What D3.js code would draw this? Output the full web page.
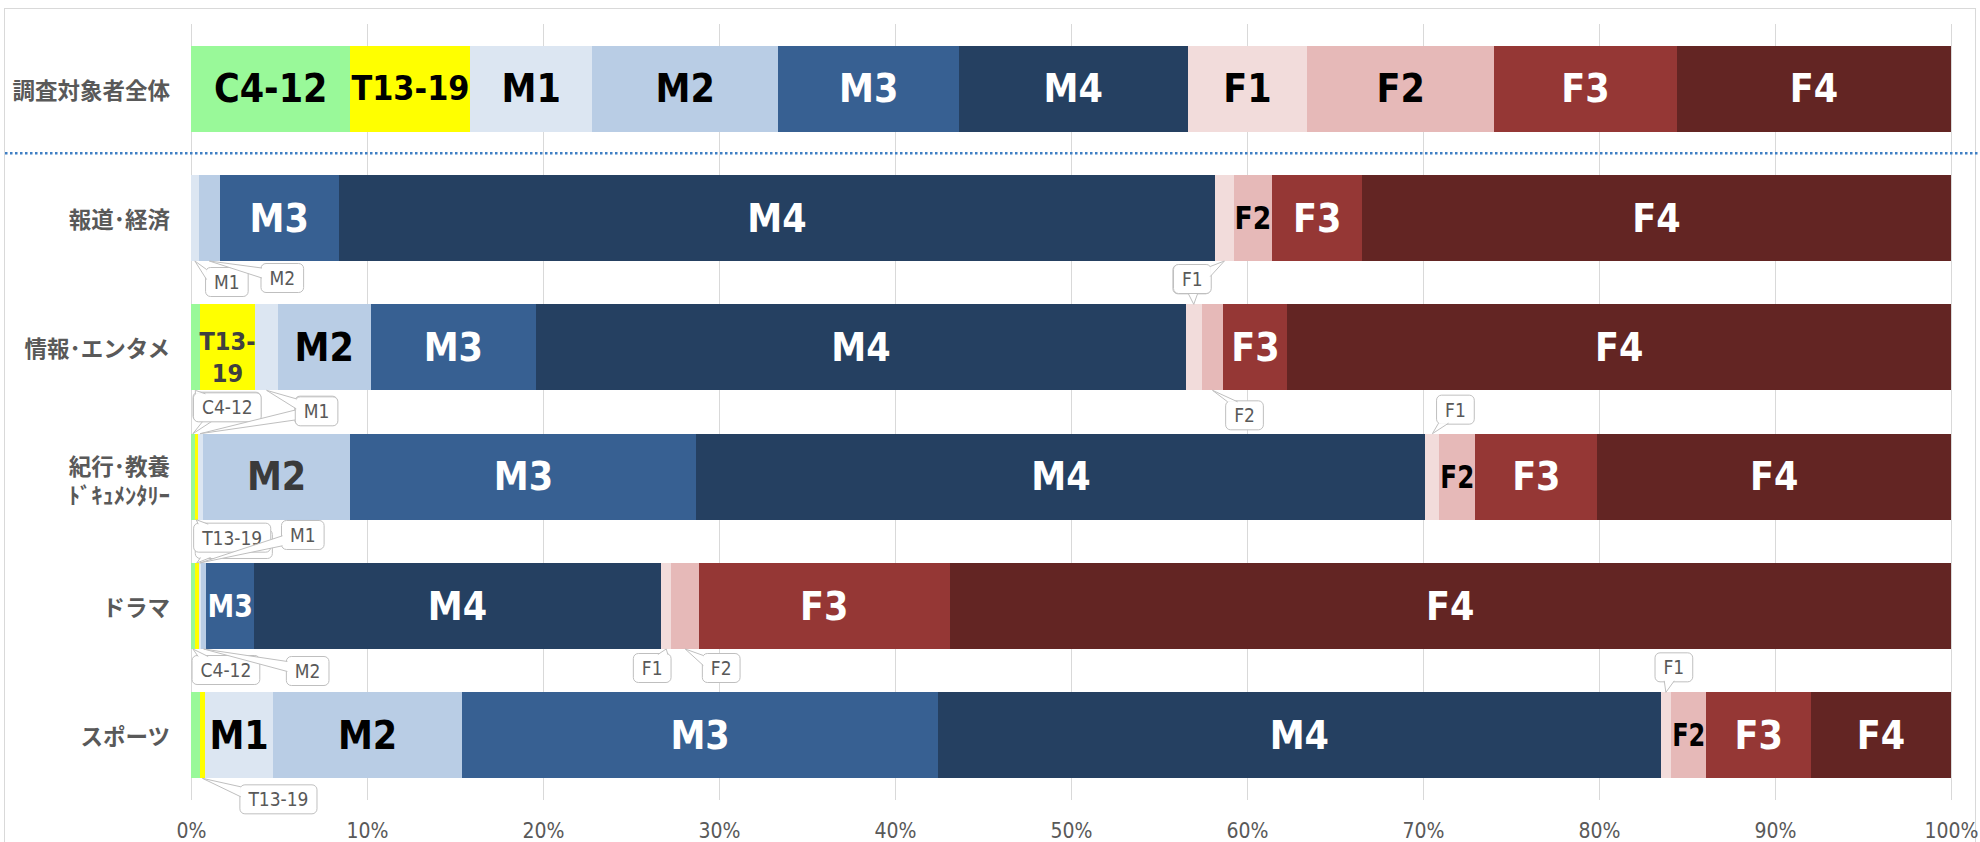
<!DOCTYPE html>
<html>
<head>
<meta charset="utf-8">
<script src="https://cdn.jsdelivr.net/npm/d3@7"></script>
<style>
  body { margin: 0; background: #fff; }
  svg { display: block; }
</style>
</head>
<body>
<div id="chart"></div>
<script>
// categories (rows) and series (stack order)
const categories = ["調査対象者全体", "報道･経済", "情報･エンタメ", "紀行･教養\nﾄﾞｷｭﾒﾝﾀﾘｰ", "ドラマ", "スポーツ"];
const seriesNames = ["C4-12", "T13-19", "M1", "M2", "M3", "M4", "F1", "F2", "F3", "F4"];

// share (%) of each series, one value per category
const c4_12  = [9.06, 0,     0.49,  0.22,  0.22,  0.51];
const t13_19 = [6.82, 0,     3.17,  0.15,  0.22,  0.28];
const m1     = [6.9,  0.44,  1.27,  0.3,   0.12,  3.88];
const m2     = [10.6, 1.2,   5.27,  8.39,  0.32,  10.73];
const m3     = [10.25, 6.75, 9.41,  19.66, 2.69,  27.05];
const m4     = [13.0, 49.8,  36.92, 41.42, 23.13, 41.05];
const f1     = [6.8,  1.05,  0.89,  0.79,  0.6,   0.6];
const f2     = [10.6, 2.2,   1.24,  2.04,  1.56,  2.0];
const f3     = [10.4, 5.1,   3.64,  6.94,  14.24, 5.95];
const f4     = [15.57, 33.46, 37.7, 20.1,  56.9,  7.95];
const seriesValues = [c4_12, t13_19, m1, m2, m3, m4, f1, f2, f3, f4];

const tickValues = [0, 10, 20, 30, 40, 50, 60, 70, 80, 90, 100];

const seriesColors = ["#99f999", "#ffff00", "#dce6f2", "#b9cde5", "#376092",
                      "#254061", "#f2dcdb", "#e6b9b8", "#953735", "#632523"];
const seriesTextColors = ["#000", "#000", "#000", "#000", "#fff", "#fff", "#000", "#000", "#fff", "#fff"];
const labelColorOverrides = [
  { cat: "情報･エンタメ", series: "T13-19", color: "#404040" },
  { cat: "紀行･教養\nﾄﾞｷｭﾒﾝﾀﾘｰ", series: "M2", color: "#3a3a3a" }
];

// small segments get a callout box instead (offset of box centre from the bar edge).
// "under" ones sit hidden behind another box, only their wedge shows
const callouts = [
  { cat: "報道･経済", series: "M1", side: "bottom", dx: 32, dy: 21 },
  { cat: "報道･経済", series: "M2", side: "bottom", dx: 73, dy: 17 },
  { cat: "情報･エンタメ", series: "F1", side: "top", dx: -2, dy: -25, under: true },
  { cat: "報道･経済", series: "F1", side: "bottom", dx: -32, dy: 18 },
  { cat: "紀行･教養\nﾄﾞｷｭﾒﾝﾀﾘｰ", series: "C4-12", side: "top", dx: 34, dy: -27, under: true },
  { cat: "情報･エンタメ", series: "C4-12", side: "bottom", dx: 32, dy: 17 },
  { cat: "紀行･教養\nﾄﾞｷｭﾒﾝﾀﾘｰ", series: "M1", side: "top", dx: 116, dy: -23, under: true },
  { cat: "情報･エンタメ", series: "M1", side: "bottom", dx: 50, dy: 21 },
  { cat: "情報･エンタメ", series: "F2", side: "bottom", dx: 32, dy: 25 },
  { cat: "紀行･教養\nﾄﾞｷｭﾒﾝﾀﾘｰ", series: "F1", side: "top", dx: 23, dy: -24 },
  { cat: "ドラマ", series: "T13-19", side: "top", dx: 37, dy: -19, under: true },
  { cat: "紀行･教養\nﾄﾞｷｭﾒﾝﾀﾘｰ", series: "T13-19", side: "bottom", dx: 36, dy: 18 },
  { cat: "ドラマ", series: "M1", side: "top", dx: 103, dy: -28 },
  { cat: "ドラマ", series: "C4-12", side: "bottom", dx: 33, dy: 21 },
  { cat: "ドラマ", series: "M2", side: "bottom", dx: 104, dy: 22 },
  { cat: "ドラマ", series: "F1", side: "bottom", dx: -14, dy: 19 },
  { cat: "ドラマ", series: "F2", side: "bottom", dx: 36, dy: 19 },
  { cat: "スポーツ", series: "F1", side: "top", dx: 8, dy: -25 },
  { cat: "スポーツ", series: "T13-19", side: "bottom", dx: 76, dy: 21 }
];

const width = 1980, height = 842;
const labelFont = "'DejaVu Sans Condensed', 'DejaVu Sans', sans-serif";
const innerSize = 39;

const svg = d3.select("#chart").append("svg")
  .attr("width", width)
  .attr("height", height);

// chart frame
svg.append("rect")
  .attr("x", 4.5).attr("y", 8.5)
  .attr("width", 1971).attr("height", 850)
  .attr("fill", "none").attr("stroke", "#d9d9d9");

const x = d3.scaleLinear().domain([0, 100]).range([191, 1951]);
const y = d3.scaleBand().domain(categories).range([24, 800])
  .paddingInner(0.335).paddingOuter(0.1675);

// vertical gridlines
svg.append("g").selectAll("line")
  .data(tickValues)
  .join("line")
  .attr("x1", d => x(d)).attr("x2", d => x(d))
  .attr("y1", 24).attr("y2", 800)
  .attr("stroke", "#d9d9d9").attr("stroke-width", 1)
  .attr("shape-rendering", "crispEdges");

// x axis
const axis = svg.append("g")
  .attr("transform", "translate(0,800)")
  .call(d3.axisBottom(x).tickValues(tickValues).tickFormat(d => d + "%").tickSize(0).tickPadding(23));
axis.select(".domain").remove();
axis.selectAll("text")
  .attr("fill", "#595959")
  .style("font-family", labelFont)
  .style("font-stretch", "condensed")
  .style("font-size", "21px");

// dotted separator under the overall row
const sepY = (y(categories[0]) + y.bandwidth() + y(categories[1])) / 2;
svg.append("line")
  .attr("x1", 5).attr("x2", 1980)
  .attr("y1", sepY).attr("y2", sepY)
  .attr("stroke", "#3f7fc4").attr("stroke-width", 2.5)
  .attr("stroke-dasharray", "2.5,2.5");

// stacked bars
const table = categories.map((c, i) => {
  const row = { cat: c };
  seriesNames.forEach((s, j) => { row[s] = seriesValues[j][i]; });
  return row;
});
const stacked = d3.stack().keys(seriesNames)(table);

svg.append("g").selectAll("g")
  .data(stacked)
  .join("g")
  .attr("fill", (d, i) => seriesColors[i])
  .selectAll("rect")
  .data(d => d)
  .join("rect")
  .attr("x", d => x(d[0]))
  .attr("width", d => x(d[1]) - x(d[0]))
  .attr("y", d => y(d.data.cat))
  .attr("height", y.bandwidth())
  .attr("shape-rendering", "crispEdges");

// category labels
const catLabels = svg.append("g")
  .selectAll("text")
  .data(categories)
  .join("text")
  .attr("text-anchor", "end")
  .attr("fill", "#595959")
  .style("font-family", "'Noto Sans CJK JP', sans-serif")
  .style("font-weight", 700)
  .style("font-size", "22.5px");
catLabels.each(function(c) {
  const lines = c.split("\n");
  const cy = y(c) + y.bandwidth() / 2;
  const offs = lines.length === 1 ? [0] : [-12, 17];
  d3.select(this).selectAll("tspan")
    .data(lines)
    .join("tspan")
    .attr("x", 170)
    .attr("y", (l, i) => cy + offs[i])
    .attr("dominant-baseline", "central")
    .text(l => l);
});

// labels inside the segments
const inner = svg.append("g");
stacked.forEach((layer, si) => {
  layer.forEach(d => {
    const v = d[1] - d[0];
    if (v < 1.9) return;
    const cat = d.data.cat;
    const segW = x(d[1]) - x(d[0]);
    const cx = x((d[0] + d[1]) / 2);
    const cy = y(cat) + y.bandwidth() / 2;
    const ov = labelColorOverrides.find(o => o.cat === cat && o.series === seriesNames[si]);
    const color = ov ? ov.color : seriesTextColors[si];
    const t = inner.append("text")
      .attr("x", cx).attr("y", cy)
      .attr("text-anchor", "middle")
      .attr("dominant-baseline", "central")
      .attr("fill", color)
      .style("font-family", labelFont)
      .style("font-stretch", "condensed")
      .style("font-weight", 700)
      .style("font-size", innerSize + "px")
      .text(seriesNames[si]);
    const len = t.node().getComputedTextLength();
    if (len > segW - 2) {
      const name = seriesNames[si];
      if (name.includes("-") && segW < 70) {
        // wrap over two lines like "T13-" / "19"
        const parts = [name.slice(0, name.indexOf("-") + 1), name.slice(name.indexOf("-") + 1)];
        t.text(null).attr("dominant-baseline", null).style("font-size", "25px");
        t.selectAll("tspan").data(parts).join("tspan")
          .attr("x", cx)
          .attr("y", (p, i) => cy + 3 + i * 32)
          .text(p => p);
      } else {
        // shrink a little, then squeeze the rest sideways (keeps the tall look)
        const fit = (segW - 2) / len;
        const size = innerSize * Math.max(0.82, fit);
        t.style("font-size", size + "px");
        const len2 = t.node().getComputedTextLength();
        if (len2 > segW - 2) {
          const k = (segW - 2) / len2;
          t.attr("transform", `translate(${cx},0) scale(${k},1) translate(${-cx},0)`);
        }
      }
    }
  });
});

// callout boxes for tiny segments
const cg = svg.append("g");
callouts.forEach(c => {
  const si = seriesNames.indexOf(c.series);
  const d = stacked[si][categories.indexOf(c.cat)];
  const ax = x((d[0] + d[1]) / 2);
  const ay = c.side === "top" ? y(c.cat) : y(c.cat) + y.bandwidth();
  const bx = ax + c.dx, by = ay + c.dy;
  const g = cg.append("g");
  const rect = g.append("rect");
  const tail = g.append("path");
  // measure the label, then drop it again if this box is hidden behind another
  const t = g.append("text")
    .attr("x", bx).attr("y", by)
    .attr("text-anchor", "middle")
    .attr("dominant-baseline", "central")
    .attr("fill", "#595959")
    .style("font-family", labelFont)
    .style("font-stretch", "condensed")
    .style("font-size", "19px")
    .text(c.series);
  const bw = t.node().getComputedTextLength() + 17, bh = 29;
  if (c.under) t.remove();
  rect.attr("x", bx - bw / 2).attr("y", by - bh / 2)
    .attr("width", bw).attr("height", bh)
    .attr("rx", 5)
    .attr("fill", "#fff").attr("stroke", "#bfbfbf").attr("stroke-width", 1);

  // wedge from the box edge to the segment
  const vx = ax - bx, vy = ay - by;
  let b1, b2;
  if (Math.abs(vy) * bw / 2 > Math.abs(vx) * bh / 2) {
    const ey = by + Math.sign(vy) * (bh / 2 - 1);
    let ex = bx + vx * (bh / 2) / Math.abs(vy);
    ex = Math.max(bx - bw / 2 + 7, Math.min(bx + bw / 2 - 7, ex));
    b1 = [ex - 5, ey]; b2 = [ex + 5, ey];
  } else {
    const ex = bx + Math.sign(vx) * (bw / 2 - 1);
    let ey = by + vy * (bw / 2) / Math.abs(vx);
    ey = Math.max(by - bh / 2 + 7, Math.min(by + bh / 2 - 7, ey));
    b1 = [ex, ey - 5]; b2 = [ex, ey + 5];
  }
  tail.attr("d", `M${b1[0]},${b1[1]}L${ax},${ay}L${b2[0]},${b2[1]}`)
    .attr("fill", "#fff").attr("stroke", "#bfbfbf").attr("stroke-width", 1);
});
</script>
</body>
</html>
